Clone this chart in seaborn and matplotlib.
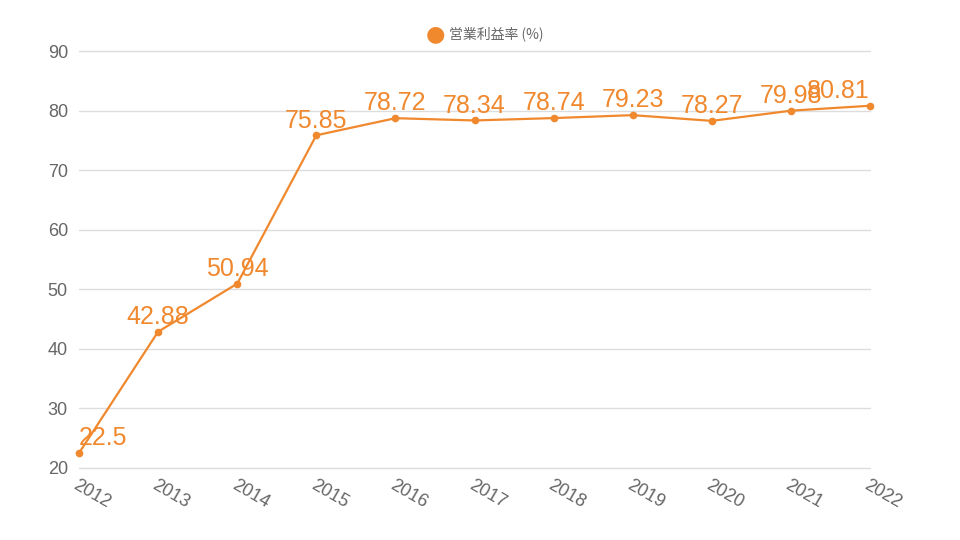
import matplotlib
matplotlib.use("Agg")
import matplotlib.pyplot as plt
import seaborn as sns
import pandas as pd

years = ["2012", "2013", "2014", "2015", "2016", "2017", "2018", "2019", "2020", "2021", "2022"]
margin = [22.5, 42.88, 50.94, 75.85, 78.72, 78.34, 78.74, 79.23, 78.27, 79.98, 80.81]
series_name = "営業利益率 (%)"
y_ticks = [20, 30, 40, 50, 60, 70, 80, 90]

sns.set_theme(style="white")
plt.rcParams['font.family'] = ['Liberation Sans', 'Noto Sans CJK JP', 'DejaVu Sans']

color = "#F0882E"
df = pd.DataFrame({"x": list(range(len(years))), "y": margin})

fig = plt.figure(figsize=(9.6, 5.4), dpi=100)
ax = fig.add_axes([79/960, 1-468/540, (870-79)/960, (468-51)/540])

sns.lineplot(data=df, x="x", y="y", ax=ax, color=color, linewidth=1.6,
             marker="o", markersize=5.5, markeredgewidth=0, markerfacecolor=color,
             clip_on=False, zorder=3)

ax.set_xlim(0, len(years)-1)
ax.set_ylim(20, 90)
ax.set_yticks(y_ticks)
ax.set_yticklabels([str(t) for t in y_ticks], color="#666666", fontsize=13)
ax.set_xticks(list(range(len(years))))
ax.set_xticklabels(years, color="#666666", fontsize=13, rotation=-30,
                   ha="left", va="top", rotation_mode="anchor")
ax.tick_params(axis="x", length=0, pad=6)
ax.tick_params(axis="y", length=0, pad=8)
for t in y_ticks:
    ax.axhline(t, color="#dddddd", linewidth=1, zorder=0, clip_on=False)
for s in ax.spines.values():
    s.set_visible(False)
ax.set_xlabel("")
ax.set_ylabel("")

n = len(years)
for i, v in enumerate(margin):
    ha = "center"
    if i == 0:
        ha = "left"
    elif i == n-1:
        ha = "right"
    ax.annotate(f"{v:g}", (i, v), xytext=(0, 2), textcoords="offset points",
                ha=ha, va="bottom", color=color, fontsize=18, clip_on=False)

# legend
fig.text(435/960, 1-34/540, "●", color=color, fontsize=16, ha="center", va="center",
         family=['DejaVu Sans'])
fig.text(449/960, 1-34/540, series_name, color="#666666", fontsize=10, ha="left", va="center",
         family=['Noto Sans CJK JP', 'DejaVu Sans'])

fig.savefig("out.png", dpi=100)
